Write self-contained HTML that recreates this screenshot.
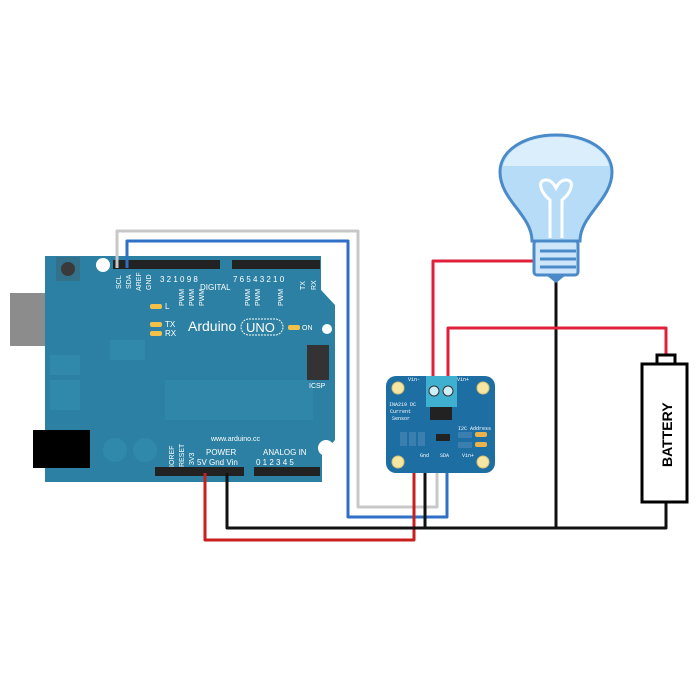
<!DOCTYPE html><html><head><style>body{margin:0;background:#fff}svg{display:block}</style></head><body>
<svg width="700" height="700" viewBox="0 0 700 700" xmlns="http://www.w3.org/2000/svg" font-family="Liberation Sans, sans-serif">
<rect width="700" height="700" fill="#fff"/>
<!-- Arduino -->
<rect x="10" y="293" width="72" height="53" fill="#8c8c8c"/>
<path d="M45 256 L321 256 L321 290 L335 305 L335 440 L322 455 L322 482 L45 482 Z" fill="#2b80a3"/>
<rect x="33" y="430" width="57" height="38" fill="#000"/>
<rect x="56" y="257" width="24" height="24" fill="#33708a"/><circle cx="68" cy="269" r="7" fill="#3a3a3a"/>
<circle cx="103" cy="265" r="7" fill="#fff"/><circle cx="327" cy="329" r="5" fill="#fff"/><circle cx="326" cy="448" r="8" fill="#fff"/>
<rect x="113" y="260" width="107" height="9" fill="#222"/><rect x="232" y="260" width="88" height="9" fill="#222"/>
<rect x="155" y="467" width="89" height="9" fill="#222"/><rect x="254" y="467" width="66" height="9" fill="#222"/>
<rect x="165" y="380" width="148" height="40" fill="#2f86a8"/>
<g fill="#3088ab"><rect x="50" y="355" width="30" height="20"/><rect x="50" y="380" width="30" height="30"/><circle cx="115" cy="450" r="12"/><circle cx="145" cy="450" r="12"/><rect x="110" y="340" width="35" height="20"/></g>
<rect x="307" y="345" width="22" height="35" fill="#333"/>
<g fill="#fff" font-size="7">
<text transform="translate(121 289) rotate(-90)">SCL</text><text transform="translate(131 289) rotate(-90)">SDA</text><text transform="translate(141 291) rotate(-90)">AREF</text><text transform="translate(151 290) rotate(-90)">GND</text>
<text transform="translate(184 306) rotate(-90)">PWM</text><text transform="translate(194 306) rotate(-90)">PWM</text><text transform="translate(204 306) rotate(-90)">PWM</text>
<text transform="translate(250 306) rotate(-90)">PWM</text><text transform="translate(260 306) rotate(-90)">PWM</text><text transform="translate(283 306) rotate(-90)">PWM</text>
<text transform="translate(305 290) rotate(-90)">TX</text><text transform="translate(316 290) rotate(-90)">RX</text>
<text transform="translate(174 467) rotate(-90)">IOREF</text><text transform="translate(184 467) rotate(-90)">RESET</text><text transform="translate(194 465) rotate(-90)">3V3</text>
<text x="160" y="282" font-size="8">3 2 1 0 9 8</text><text x="233" y="282" font-size="8">7 6 5 4 3 2 1 0</text>
<text x="200" y="290" font-size="8">DIGITAL</text><text x="211" y="441">www.arduino.cc</text><text x="206" y="455" font-size="8">POWER</text>
<text x="263" y="455" font-size="8">ANALOG IN</text><text x="197" y="465" font-size="8">5V  Gnd  Vin</text><text x="256" y="465" font-size="8">0 1 2 3 4 5</text>
<text x="165" y="327" font-size="8">TX</text><text x="165" y="336" font-size="8">RX</text><text x="165" y="309" font-size="8">L</text>
<text x="302" y="330" font-size="7">ON</text><text x="309" y="388" font-size="7">ICSP</text>
<text x="188" y="331" font-size="14">Arduino</text><text x="246" y="332" font-size="13">UNO</text></g>
<rect x="241" y="319" width="42" height="16" rx="8" fill="none" stroke="#fff" stroke-dasharray="2 1"/>
<g fill="#f1c14a"><rect x="150" y="304" width="12" height="5" rx="2"/><rect x="150" y="322" width="12" height="5" rx="2"/><rect x="150" y="331" width="12" height="5" rx="2"/><rect x="288" y="325" width="12" height="5" rx="2"/></g>
<!-- wires -->
<g fill="none" stroke-width="3" stroke-linejoin="round">
<path d="M117 268 V231 H358 V507 H437 V463" stroke="#c8c8c8"/>
<path d="M127 268 V241 H348 V517 H447 V463" stroke="#2f6fc7"/>
<path d="M205 473 V540 H414 V463" stroke="#c81e1e"/>
<path d="M227 473 V528 H666 V500" stroke="#111"/>
<path d="M425 463 V528" stroke="#111"/>
<path d="M556 280 V528" stroke="#111"/>
<path d="M433 380 V261 H535" stroke="#e0203a"/>
<path d="M448 380 V328 H666 V356" stroke="#e0203a"/>
</g>
<!-- sensor -->
<rect x="386" y="376" width="109" height="97" rx="10" fill="#1d6ea3"/>
<g fill="#f6e6a4" stroke="#d8c070"><circle cx="398" cy="388" r="6"/><circle cx="483" cy="388" r="6"/><circle cx="398" cy="462" r="6"/><circle cx="483" cy="462" r="6"/></g>
<rect x="426" y="376" width="31" height="31" fill="#3fb0d0"/><circle cx="434" cy="391" r="5" fill="#cfeff8" stroke="#333"/><circle cx="448" cy="391" r="5" fill="#cfeff8" stroke="#333"/>
<rect x="430" y="407" width="22" height="13" fill="#222"/><rect x="436" y="434" width="14" height="7" fill="#222"/>
<g fill="#3a7fb0"><rect x="400" y="432" width="7" height="14"/><rect x="409" y="432" width="7" height="14"/><rect x="418" y="432" width="7" height="14"/><rect x="458" y="432" width="14" height="6"/><rect x="458" y="442" width="14" height="6"/></g>
<g fill="#fff" font-size="5" font-family="Liberation Mono, monospace"><text x="408" y="381">Vin-</text><text x="457" y="381">Vin+</text><text x="389" y="406">INA219 DC</text><text x="390" y="413">Current</text><text x="392" y="420">Sensor</text><text x="458" y="430">I2C Address</text><text x="420" y="457">Gnd</text><text x="440" y="457">SDA</text><text x="462" y="457">Vin+</text></g>
<g fill="#e9b24a"><rect x="475" y="432" width="12" height="5" rx="2"/><rect x="475" y="442" width="12" height="5" rx="2"/></g>
<!-- bulb -->
<path d="M532 241 C532 215 500 200 500 172 C500 150 525 135 556 135 C587 135 612 150 612 172 C612 200 580 215 580 241 Z" fill="#b6dcf8" stroke="#4a8ac8" stroke-width="3"/>
<path d="M503 166 H609 C605 150 585 137 556 137 C527 137 507 150 503 166Z" fill="#daeefc"/>
<path d="M550 238 V200 C540 192 537 180 546 180 C552 180 555 186 556 188 C557 186 560 180 566 180 C575 180 572 192 562 200 V238" fill="none" stroke="#fff" stroke-width="3"/>
<rect x="534" y="241" width="44" height="34" rx="3" fill="#cde6fa" stroke="#4a8ac8" stroke-width="3"/>
<g stroke="#4a8ac8" stroke-width="3"><line x1="540" y1="251" x2="576" y2="251"/><line x1="540" y1="259" x2="576" y2="259"/><line x1="540" y1="267" x2="576" y2="267"/></g>
<path d="M546 275 H566 L556 283 Z" fill="#4a8ac8"/>
<!-- battery -->
<rect x="657" y="355" width="18" height="9" fill="#fff" stroke="#000" stroke-width="3"/>
<rect x="642" y="364" width="45" height="138" fill="#fff" stroke="#000" stroke-width="3"/>
<text transform="translate(672 467) rotate(-90)" font-size="14" font-weight="bold">BATTERY</text>
</svg></body></html>
